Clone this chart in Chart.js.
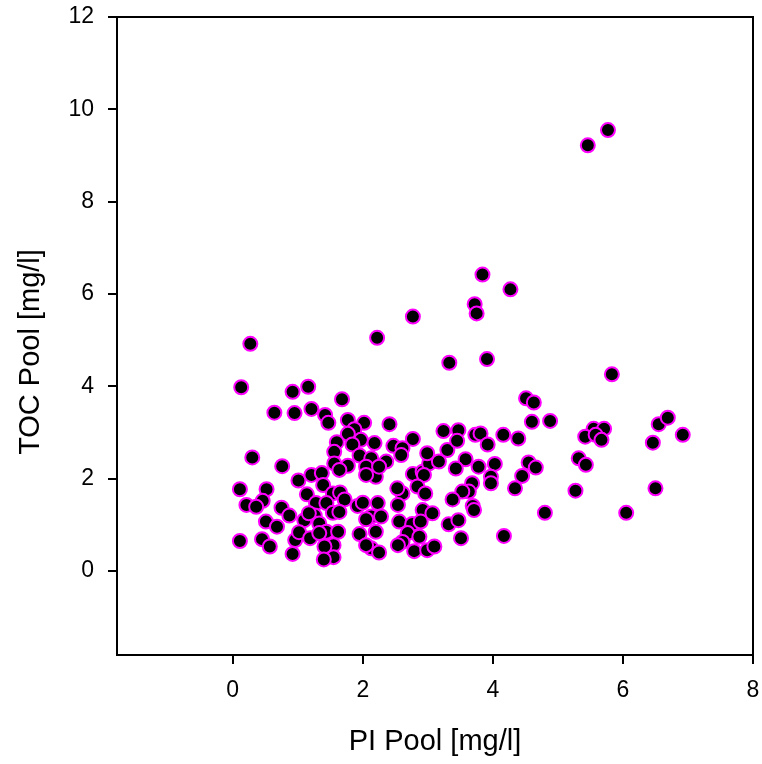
<!DOCTYPE html>
<html>
<head>
<meta charset="utf-8">
<script src="https://cdn.jsdelivr.net/npm/chart.js@4.4.0/dist/chart.umd.min.js"></script>
<style>
  html, body { margin: 0; padding: 0; background: #fff; }
  #wrap { width: 762px; height: 764px; }
</style>
</head>
<body>
<div id="wrap"><canvas id="chart" width="762" height="764"></canvas></div>
<script>
// PI Pool [mg/l] (x) and TOC Pool [mg/l] (y)
var piPool = [
  0.27, 2.22, 0.13, 0.92, 1.16, 1.68, 0.64, 0.95, 1.21, 1.42, 1.47, 1.77, 2.02, 1.87, 1.77, 1.60,
  1.97, 2.18, 1.84, 1.56, 1.95, 2.13, 0.30, 1.56, 1.77, 0.76, 2.05, 2.20, 1.01, 1.21, 1.37, 1.64,
  0.11, 0.52, 1.39, 1.14, 1.54, 1.65, 1.72, 0.21, 0.46, 0.36, 0.75, 0.87, 1.28, 1.44, 1.26, 1.54,
  1.64, 1.10, 1.33, 1.17, 1.92, 2.00, 2.13, 2.23, 0.51, 0.68, 0.11, 0.45, 0.57, 0.96, 0.92, 1.02,
  1.19, 1.44, 1.62, 1.33, 1.55, 1.41, 1.55, 1.40, 1.95, 2.13, 2.05, 2.20,
  3.33, 3.91, 2.41, 2.77, 2.47, 2.61, 2.59, 2.36, 2.25, 2.05, 2.77, 2.92, 3.02, 2.99, 3.17, 3.30,
  3.24, 3.47, 3.45, 3.73, 3.81, 3.92, 4.16, 4.39, 3.58, 3.43, 3.78, 4.03, 3.97,
  2.94, 3.97, 4.34, 3.68, 3.63, 3.53, 2.61, 2.53, 2.84, 2.96, 3.38, 2.54, 3.69, 3.71, 2.28, 2.92,
  3.07, 2.56, 2.76, 2.89, 3.32, 3.47, 3.51, 4.17, 2.69, 2.87, 2.61, 2.54, 2.79, 2.99, 3.10, 2.25, 2.05,
  5.83, 4.51, 4.63, 4.60, 4.88, 5.55, 5.71, 5.42, 5.58, 5.67, 6.55, 6.69, 6.92, 6.46, 4.55, 4.66,
  4.45, 5.32, 5.43, 5.27, 6.50, 4.80, 6.05,
  5.77, 5.46, 3.84, 4.27, 3.72, 3.75, 2.77
];
var tocPool = [
  4.92, 5.05, 3.98, 3.88, 3.99, 3.72, 3.43, 3.42, 3.51, 3.38, 3.21, 3.27, 3.21, 3.07, 2.97, 2.79,
  2.84, 2.77, 2.74, 2.58, 2.50, 2.44, 2.46, 2.33, 2.28, 2.27, 2.26, 2.04, 1.96, 2.08, 2.12, 2.19,
  1.77, 1.77, 1.86, 1.66, 1.68, 1.70, 1.55, 1.43, 1.52, 1.39, 1.37, 1.20, 1.47, 1.47, 1.20, 1.26,
  1.28, 1.10, 1.03, 1.25, 1.41, 1.48, 1.18, 1.47, 1.07, 0.96, 0.65, 0.69, 0.53, 0.67, 0.37, 0.84,
  0.71, 0.85, 0.85, 0.82, 0.56, 0.53, 0.30, 0.25, 0.80, 0.49, 1.12, 0.85,
  4.51, 4.59, 3.18, 2.86, 2.71, 2.66, 2.51, 2.37, 2.26, 2.08, 2.10, 2.15, 2.33, 2.55, 2.37, 2.62,
  3.03, 3.05, 2.82, 2.95, 2.98, 2.74, 2.95, 2.87, 2.42, 2.22, 2.26, 2.32, 2.04,
  2.08, 1.90, 1.79, 1.90, 1.72, 1.72, 1.68, 1.79, 1.83, 1.68, 1.55, 1.43, 1.41, 1.32, 1.18, 1.32,
  1.25, 1.07, 1.02, 1.07, 1.01, 1.10, 0.71, 0.76, 0.82, 0.74, 0.63, 0.56, 0.43, 0.45, 0.53, 0.40, 0.56,
  4.26, 3.74, 3.65, 3.23, 3.25, 3.08, 3.08, 2.91, 2.95, 2.84, 3.18, 3.32, 2.95, 2.78, 2.35, 2.24,
  2.06, 2.44, 2.30, 1.74, 1.79, 1.26, 1.26,
  9.55, 9.22, 6.42, 6.10, 5.78, 5.58, 5.51
];
var xTicks = [0, 2, 4, 6, 8];
var yTicks = [0, 2, 4, 6, 8, 10, 12];

var points = piPool.map(function (x, i) {
    return { x: x, y: tocPool[i] };
});

var fontFamily = 'Liberation Sans, Arial, sans-serif';

// box around the plot area + the y title, which sits a bit below the middle
var frame = {
    id: 'frame',
    afterDraw: function (chart) {
        var a = chart.chartArea, ctx = chart.ctx;
        ctx.save();
        ctx.strokeStyle = '#000';
        ctx.lineWidth = 2;
        ctx.strokeRect(a.left, a.top, a.right - a.left, a.bottom - a.top);

        ctx.translate(31, (a.top + a.bottom) / 2 + 16);
        ctx.rotate(-Math.PI / 2);
        ctx.fillStyle = '#000';
        ctx.font = '29px ' + fontFamily;
        ctx.textAlign = 'center';
        ctx.textBaseline = 'middle';
        ctx.fillText('TOC Pool [mg/l]', 0, 0);
        ctx.restore();
    }
};

function setTicks(list) {
    return function (scale) {
        scale.ticks = list.map(function (v) { return { value: v }; });
    };
}

var tickFont = { family: fontFamily, size: 23 };
var titleFont = { family: fontFamily, size: 29 };

new Chart(document.getElementById('chart'), {
    type: 'scatter',
    data: {
        datasets: [{
            data: points,
            backgroundColor: '#000',
            borderColor: '#ff00ff',
            borderWidth: 2,
            pointRadius: 7,
            pointHoverRadius: 7
        }]
    },
    options: {
        responsive: false,
        animation: false,
        layout: { padding: { top: 17, right: 8, left: 0, bottom: 0 } },
        plugins: { legend: { display: false }, tooltip: { enabled: false } },
        scales: {
            x: {
                type: 'linear',
                min: -1.78,
                max: 8,
                afterBuildTicks: setTicks(xTicks),
                afterFit: function (scale) {
                    scale.height = 109;
                    scale.paddingLeft = 0;
                    scale.paddingRight = 0;
                },
                grid: { drawOnChartArea: false, drawTicks: true, tickLength: 9, color: '#000', lineWidth: 2 },
                border: { display: false },
                ticks: { color: '#000', font: tickFont, padding: 13, maxRotation: 0 },
                title: { display: true, text: 'PI Pool [mg/l]', color: '#000', font: titleFont, padding: { top: 4, bottom: 5 } }
            },
            y: {
                type: 'linear',
                min: -1.82,
                max: 12,
                afterBuildTicks: setTicks(yTicks),
                afterFit: function (scale) {
                    scale.width = 117;
                    scale.paddingTop = 0;
                    scale.paddingBottom = 0;
                },
                grid: { drawOnChartArea: false, drawTicks: true, tickLength: 9, color: '#000', lineWidth: 2 },
                border: { display: false },
                ticks: { color: '#000', font: tickFont, padding: 14 },
                title: { display: false }
            }
        }
    },
    plugins: [frame]
});
</script>
</body>
</html>
